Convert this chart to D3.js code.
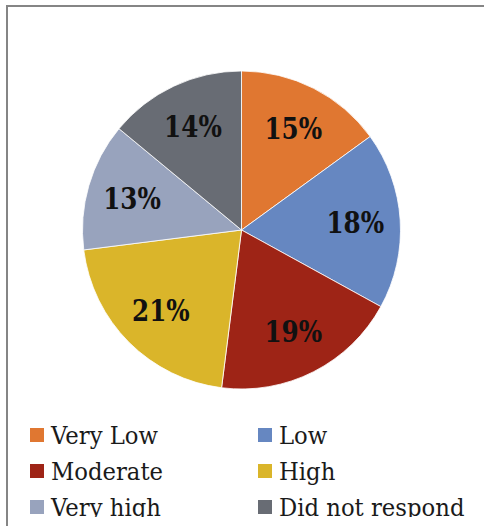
<!DOCTYPE html>
<html>
<head>
<meta charset="utf-8">
<script src="https://cdn.jsdelivr.net/npm/d3@7"></script>
<style>
  html, body { margin: 0; padding: 0; background: #fff; }
  svg { display: block; }
</style>
</head>
<body>
<svg id="chart" width="484" height="531"></svg>
<script>
// Survey response shares, clockwise from 12 o'clock
const categories = ["Very Low", "Low", "Moderate", "High", "Very high", "Did not respond"];
const values = [15, 18, 19, 21, 13, 14];
const palette = ["#E07731", "#6687C1", "#9E2416", "#DAB52A", "#98A3BD", "#686C74"];

const svg = d3.select("#chart");
const W = 484, H = 531;

// Frame (left and top edges), the panel runs past the bottom of the view
svg.append("path")
  .attr("d", `M7,526 V6 H${W}`)
  .attr("fill", "none")
  .attr("stroke", "#858585")
  .attr("stroke-width", 2);

svg.append("clipPath").attr("id", "panel-clip")
  .append("rect").attr("x", 8).attr("y", 7).attr("width", W).attr("height", 510);

const color = d3.scaleOrdinal().domain(categories).range(palette);

const cx = 241.5, cy = 230, R = 159;
const pie = d3.pie().sort(null).value(d => d.value);
const data = categories.map((c, i) => ({ category: c, value: values[i] }));
const arcs = pie(data);

const arc = d3.arc().innerRadius(0).outerRadius(R);
const labelArc = d3.arc().innerRadius(114).outerRadius(114);

const g = svg.append("g").attr("transform", `translate(${cx},${cy})`);

g.selectAll("path.slice")
  .data(arcs)
  .join("path")
  .attr("class", "slice")
  .attr("d", arc)
  .attr("fill", d => color(d.data.category))
  .attr("stroke", "#ffffff")
  .attr("stroke-width", 0.8);

g.selectAll("text.pct")
  .data(arcs)
  .join("text")
  .attr("class", "pct")
  .attr("transform", d => `translate(${labelArc.centroid(d)}) scale(0.85,1)`)
  .attr("text-anchor", "middle")
  .attr("dy", "0.36em")
  .style("font-family", "'DejaVu Serif', serif")
  .style("font-weight", "bold")
  .style("font-size", "29px")
  .style("fill", "#111")
  .text(d => d.data.value + "%");

// Legend: two columns, three rows
const legendCols = [30, 258];
const legendRow0 = 443.5, legendRowStep = 36;
const legend = svg.append("g").attr("clip-path", "url(#panel-clip)");
const items = legend.selectAll("g.item")
  .data(categories)
  .join("g")
  .attr("class", "item")
  .attr("transform", (d, i) => `translate(${legendCols[i % 2]},${legendRow0 + Math.floor(i / 2) * legendRowStep})`);

items.append("rect")
  .attr("x", 0)
  .attr("y", -15.5)
  .attr("width", 14)
  .attr("height", 14)
  .attr("fill", d => color(d));

items.append("text")
  .attr("transform", "translate(21,0) scale(0.91,1)")
  .style("font-family", "'DejaVu Serif', serif")
  .style("font-size", "25px")
  .style("fill", "#1a1a1a")
  .text(d => d);
</script>
</body>
</html>
